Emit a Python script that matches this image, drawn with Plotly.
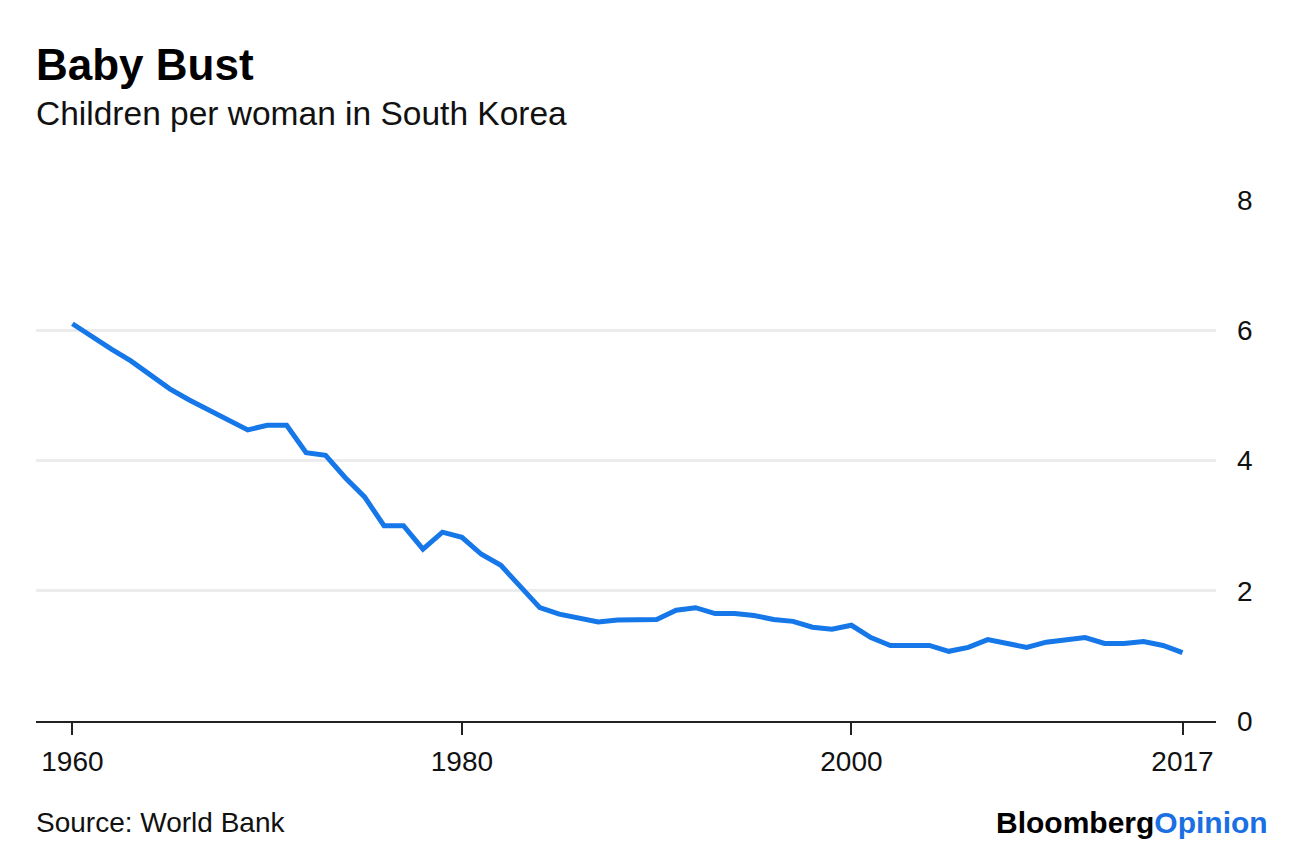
import plotly.graph_objects as go

years = list(range(1960, 2018))
fertility = [6.10, 5.90, 5.71, 5.53, 5.32, 5.10, 4.93, 4.78, 4.64, 4.47,
             4.54, 4.54, 4.12, 4.08, 3.74, 3.44, 3.00, 3.00, 2.64, 2.90,
             2.82, 2.56, 2.39, 2.06, 1.74, 1.64, 1.58, 1.52, 1.55, 1.56,
             1.56, 1.70, 1.74, 1.65, 1.65, 1.62, 1.56, 1.53, 1.44, 1.41,
             1.47, 1.28, 1.16, 1.16, 1.16, 1.07, 1.13, 1.25, 1.19, 1.13,
             1.21, 1.25, 1.28, 1.19, 1.19, 1.22, 1.16, 1.05]
x_ticks = [1960, 1980, 2000, 2017]
y_ticks = [0, 2, 4, 6, 8]

FONT = "Liberation Sans, Arial, sans-serif"
BLUE = "#1577e8"

# page body has an 8px margin: work in screen pixels, convert to figure pixels
OFF = 8
W, H_FIG = 1296 - OFF, 854 - OFF
plot_left, plot_right, plot_top, plot_bottom = 36, 1216, 200, 721
L = plot_left - OFF
R = W - (plot_right - OFF)
T = plot_top - OFF
B = H_FIG - (plot_bottom - OFF)
PH = plot_bottom - plot_top
PW = plot_right - plot_left

def py(p):
    return (plot_bottom - p) / PH

def px(p):
    return (p - plot_left) / PW

fig = go.Figure()
fig.add_trace(go.Scatter(x=years, y=fertility, mode="lines",
                         line=dict(color=BLUE, width=5),
                         hoverinfo="x+y", showlegend=False))

fig.update_layout(
    width=W, height=H_FIG,
    margin=dict(l=L, r=R, t=T, b=B, pad=0),
    paper_bgcolor="white", plot_bgcolor="white",
    font=dict(family=FONT, color="#111111", size=28),
    xaxis=dict(range=[1958.13, 2018.72], tickvals=x_ticks,
               ticktext=[str(v) for v in x_ticks],
               showgrid=False, zeroline=False,
               showline=True, linecolor="#222222", linewidth=2,
               ticks="outside", ticklen=12, tickwidth=1.5, tickcolor="#222222",
               ticklabelstandoff=2,
               tickfont=dict(size=28, family=FONT, color="#111111")),
    yaxis=dict(range=[0, 8], tickvals=y_ticks, side="right",
               showgrid=True, gridcolor="#ececec", gridwidth=2.5,
               zeroline=False, showline=False, ticks="",
               ticklabelstandoff=20,
               tickfont=dict(size=28, family=FONT, color="#111111")),
    annotations=[
        dict(text="<b>Baby Bust</b>", x=px(34), y=py(64), xref="paper", yref="paper",
             xanchor="left", yanchor="middle", showarrow=False,
             font=dict(size=44, family=FONT, color="#000000")),
        dict(text="Children per woman in South Korea", x=px(34), y=py(113),
             xref="paper", yref="paper", xanchor="left", yanchor="middle",
             showarrow=False, font=dict(size=33.5, family=FONT, color="#111111")),
        dict(text="Source: World Bank", x=px(34), y=py(822),
             xref="paper", yref="paper", xanchor="left", yanchor="middle",
             showarrow=False, font=dict(size=28, family=FONT, color="#111111")),
        dict(text="<b>Bloomberg</b><b><span style='color:#1a6fe3'>Opinion</span></b>",
             x=px(1270), y=py(822), xref="paper", yref="paper",
             xanchor="right", yanchor="middle", showarrow=False,
             font=dict(size=30, family=FONT, color="#000000")),
    ],
)

fig.write_html("out.html")
